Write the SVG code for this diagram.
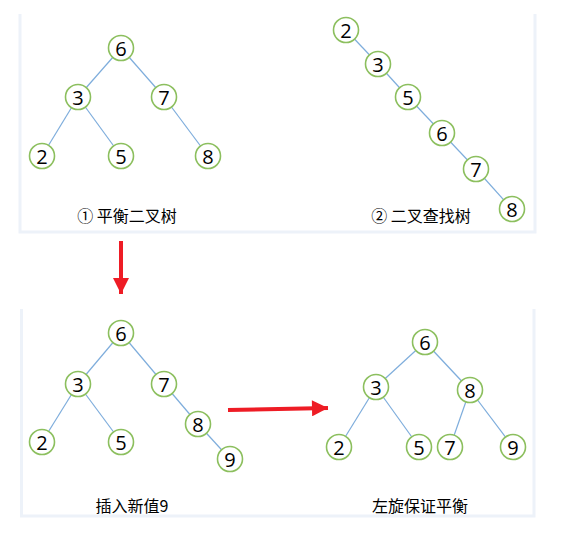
<svg xmlns="http://www.w3.org/2000/svg" width="571" height="541" viewBox="0 0 571 541">
<defs>
<style>
.panel{fill:none;stroke:#edf2f9;stroke-width:3}
.edge{stroke:#7eaddc;stroke-width:1.2}
.node circle{fill:#fff;stroke:#8cbf5e;stroke-width:1.6}
.node text{font-family:"Open Sans","Noto Sans",sans-serif;font-size:20px;fill:#000;text-anchor:middle;dominant-baseline:central}
.cap{font-family:"Noto Sans CJK SC","Noto Sans",sans-serif;font-size:16px;fill:#000;text-anchor:middle;dominant-baseline:central}
.arrow{stroke:#ee1c25;stroke-width:4;fill:none}
</style>
<marker id="ah" viewBox="0 0 10 10" refX="10" refY="5" markerWidth="5" markerHeight="4" markerUnits="strokeWidth" orient="auto">
<path d="M0,0 L10,5 L0,10 Z" fill="#ee1c25"/>
</marker>
</defs>
<rect width="571" height="541" fill="#fff"/>
<g id="panels">
<polyline class="panel" points="20,14 20,232 535,232 535,14"/>
<polyline class="panel" points="21.5,309 21.5,516 534,516 534,309"/>
</g>
<g id="connectors">
<line class="edge" x1="121" y1="48" x2="78" y2="97"/>
<line class="edge" x1="121" y1="48" x2="164" y2="97"/>
<line class="edge" x1="78" y1="97" x2="42" y2="156"/>
<line class="edge" x1="78" y1="97" x2="121" y2="156"/>
<line class="edge" x1="164" y1="97" x2="208" y2="156"/>
<line class="edge" x1="346" y1="30" x2="378" y2="64"/>
<line class="edge" x1="378" y1="64" x2="408" y2="97"/>
<line class="edge" x1="408" y1="97" x2="442" y2="133"/>
<line class="edge" x1="442" y1="133" x2="476" y2="169"/>
<line class="edge" x1="476" y1="169" x2="512" y2="209"/>
<line class="edge" x1="121" y1="333" x2="78" y2="384"/>
<line class="edge" x1="121" y1="333" x2="164" y2="384"/>
<line class="edge" x1="78" y1="384" x2="42" y2="442"/>
<line class="edge" x1="78" y1="384" x2="121" y2="442"/>
<line class="edge" x1="164" y1="384" x2="198" y2="424"/>
<line class="edge" x1="198" y1="424" x2="230" y2="459"/>
<line class="edge" x1="425" y1="342" x2="376" y2="387"/>
<line class="edge" x1="425" y1="342" x2="470" y2="390"/>
<line class="edge" x1="376" y1="387" x2="339" y2="447"/>
<line class="edge" x1="376" y1="387" x2="419" y2="447"/>
<line class="edge" x1="470" y1="390" x2="450" y2="447"/>
<line class="edge" x1="470" y1="390" x2="513" y2="447"/>
<line class="arrow" x1="121" y1="241" x2="121" y2="294" marker-end="url(#ah)"/>
<line class="arrow" x1="228" y1="410" x2="328" y2="408" marker-end="url(#ah)"/>
</g>
<g id="tree1">
<g id="t1-6" class="node"><circle cx="121" cy="48" r="12.5"/><text x="121" y="48">6</text></g>
<g id="t1-3" class="node"><circle cx="78" cy="97" r="12.5"/><text x="78" y="97">3</text></g>
<g id="t1-7" class="node"><circle cx="164" cy="97" r="12.5"/><text x="164" y="97">7</text></g>
<g id="t1-2" class="node"><circle cx="42" cy="156" r="12.5"/><text x="42" y="156">2</text></g>
<g id="t1-5" class="node"><circle cx="121" cy="156" r="12.5"/><text x="121" y="156">5</text></g>
<g id="t1-8" class="node"><circle cx="208" cy="156" r="12.5"/><text x="208" y="156">8</text></g>
<text class="cap" x="127" y="215">① 平衡二叉树</text>
</g>
<g id="tree2">
<g id="t2-2" class="node"><circle cx="346" cy="30" r="12.5"/><text x="346" y="30">2</text></g>
<g id="t2-3" class="node"><circle cx="378" cy="64" r="12.5"/><text x="378" y="64">3</text></g>
<g id="t2-5" class="node"><circle cx="408" cy="97" r="12.5"/><text x="408" y="97">5</text></g>
<g id="t2-6" class="node"><circle cx="442" cy="133" r="12.5"/><text x="442" y="133">6</text></g>
<g id="t2-7" class="node"><circle cx="476" cy="169" r="12.5"/><text x="476" y="169">7</text></g>
<g id="t2-8" class="node"><circle cx="512" cy="209" r="12.5"/><text x="512" y="209">8</text></g>
<text class="cap" x="421" y="215">② 二叉查找树</text>
</g>
<g id="tree3">
<g id="t3-6" class="node"><circle cx="121" cy="333" r="12.5"/><text x="121" y="333">6</text></g>
<g id="t3-3" class="node"><circle cx="78" cy="384" r="12.5"/><text x="78" y="384">3</text></g>
<g id="t3-7" class="node"><circle cx="164" cy="384" r="12.5"/><text x="164" y="384">7</text></g>
<g id="t3-2" class="node"><circle cx="42" cy="442" r="12.5"/><text x="42" y="442">2</text></g>
<g id="t3-5" class="node"><circle cx="121" cy="442" r="12.5"/><text x="121" y="442">5</text></g>
<g id="t3-8" class="node"><circle cx="198" cy="424" r="12.5"/><text x="198" y="424">8</text></g>
<g id="t3-9" class="node"><circle cx="230" cy="459" r="12.5"/><text x="230" y="459">9</text></g>
<text class="cap" x="132" y="505">插入新值9</text>
</g>
<g id="tree4">
<g id="t4-6" class="node"><circle cx="425" cy="342" r="12.5"/><text x="425" y="342">6</text></g>
<g id="t4-3" class="node"><circle cx="376" cy="387" r="12.5"/><text x="376" y="387">3</text></g>
<g id="t4-8" class="node"><circle cx="470" cy="390" r="12.5"/><text x="470" y="390">8</text></g>
<g id="t4-2" class="node"><circle cx="339" cy="447" r="12.5"/><text x="339" y="447">2</text></g>
<g id="t4-5" class="node"><circle cx="419" cy="447" r="12.5"/><text x="419" y="447">5</text></g>
<g id="t4-7" class="node"><circle cx="450" cy="447" r="12.5"/><text x="450" y="447">7</text></g>
<g id="t4-9" class="node"><circle cx="513" cy="447" r="12.5"/><text x="513" y="447">9</text></g>
<text class="cap" x="420" y="505">左旋保证平衡</text>
</g>
</svg>
